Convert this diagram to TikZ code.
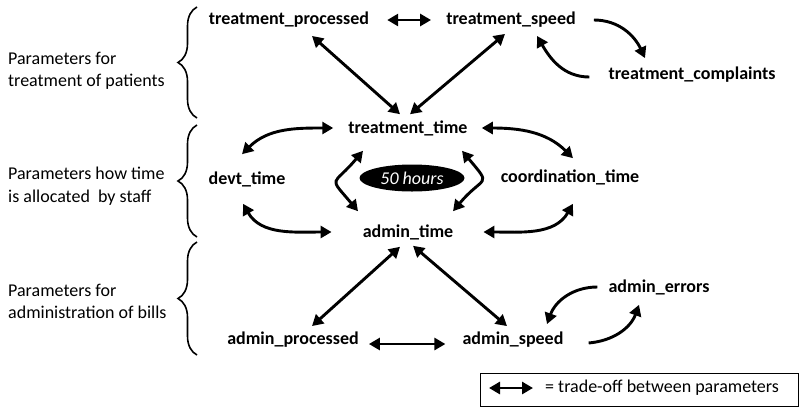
\documentclass[tikz,border=0pt]{standalone}
\usepackage{fontspec}
\setmainfont{Carlito}
\usetikzlibrary{arrows.meta,shapes.geometric,decorations.pathreplacing}
\begin{document}
\begin{tikzpicture}[x=1pt,y=-1pt,
  param/.style={inner sep=0pt,font=\bfseries\fontsize{18}{22}\selectfont},
  grouplabel/.style={inner sep=0pt,anchor=west,align=left,font=\fontsize{18}{22.5}\selectfont},
  trade/.style={line width=2.9pt,{Triangle[length=11pt,width=12pt]}-{Triangle[length=11pt,width=12pt]}},
  oneway/.style={line width=2.9pt,-{Triangle[length=11pt,width=12pt]}},
  grpbrace/.style={line width=1.6pt,decorate,decoration={brace,amplitude=19pt}}]
\useasboundingbox (0,0) rectangle (799,408);

% group labels
\node[grouplabel] (g1) at (8,71) {Parameters for\\treatment of patients};
\node[grouplabel] (g2) at (8,186) {Parameters how time\\is allocated\ \ by staff};
\node[grouplabel] (g3) at (8,301.5) {Parameters for\\administration of bills};

% braces
\draw[grpbrace] (197,118) -- (197,7);
\draw[grpbrace] (197,237) -- (197,125);
\draw[grpbrace] (197,355) -- (197,242);

% parameter nodes
\node[param] (tp) at (289,20) {treatment\_processed};
\node[param] (ts) at (511,20) {treatment\_speed};
\node[param] (tc) at (692,75) {treatment\_complaints};
\node[param] (tt) at (408,128) {treatment\_time};
\node[param] (dv) at (247,179) {devt\_time};
\node[param] (ct) at (570,177) {coordination\_time};
\node[ellipse,fill=black,minimum width=105pt,minimum height=27pt,inner sep=0pt,text=white,
      font=\itshape\fontsize{18}{22}\selectfont] (fh) at (412,178) {50 hours};
\node[param] (at) at (408,232) {admin\_time};
\node[param] (ae) at (659,287) {admin\_errors};
\node[param] (ap) at (293,340) {admin\_processed};
\node[param] (as) at (513,340) {admin\_speed};

% connectors: treatment group
\draw[trade] ([xshift=18pt]tp.east) -- ([xshift=-15pt]ts.west);
\draw[trade] ([xshift=23pt,yshift=-8pt]tp.south) -- ([xshift=-8pt,yshift=6pt]tt.north);
\draw[trade] ([xshift=-6pt,yshift=-6pt]ts.south) -- ([xshift=2pt,yshift=6pt]tt.north);
\draw[oneway] ([xshift=18pt]ts.east) to[out=0,in=115] ([xshift=-47pt,yshift=9pt]tc.north);
\draw[oneway] ([xshift=-19pt,yshift=-2pt]tc.west) to[out=180,in=-60] ([xshift=26pt,yshift=-8pt]ts.south);

% connectors: time group
\draw[trade] ([xshift=-15pt]tt.west) to[out=180,in=45] ([xshift=-5pt,yshift=17pt]dv.north);
\draw[trade] ([xshift=14pt]tt.east) to[out=0,in=135] ([xshift=3pt,yshift=11pt]ct.north);
\draw[trade] ([xshift=-4pt,yshift=-17pt]dv.south) to[out=-60,in=180] ([xshift=-31pt]at.west);
\draw[trade] ([xshift=3pt,yshift=-19pt]ct.south) to[out=-120,in=0] ([xshift=30pt]at.east);
\draw[trade] ([xshift=-45pt,yshift=-15pt]tt.south) to[out=-130,in=130,looseness=2] ([xshift=-50pt,yshift=13pt]at.north);
\draw[trade] ([xshift=54pt,yshift=-15pt]tt.south) to[out=-50,in=50,looseness=2] ([xshift=45pt,yshift=13pt]at.north);

% connectors: admin group
\draw[trade] ([xshift=-8pt,yshift=-7pt]at.south) -- ([xshift=19pt,yshift=6pt]ap.north);
\draw[trade] ([xshift=5pt,yshift=-6pt]at.south) -- ([xshift=-6pt,yshift=6pt]as.north);
\draw[trade] ([xshift=10pt,yshift=-4pt]ap.east) -- ([xshift=-17pt,yshift=-4pt]as.west);
\draw[oneway] ([xshift=-11pt]ae.west) to[out=180,in=70] ([xshift=34pt,yshift=8pt]as.north);
\draw[oneway] ([xshift=25pt,yshift=-3pt]as.east) to[out=5,in=-110] ([xshift=-20pt,yshift=-10pt]ae.south);

% legend
\node[draw,line width=1.4pt,minimum width=318pt,minimum height=33pt,inner sep=0pt,anchor=north west] (lg) at (480,373) {};
\coordinate (la) at (489,388);
\coordinate (lb) at (533,388);
\draw[trade] (la) -- (lb);
\node[inner sep=0pt,anchor=west,font=\fontsize{18}{22}\selectfont] (lt) at (545,388) {= trade-off between parameters};
\end{tikzpicture}
\end{document}
